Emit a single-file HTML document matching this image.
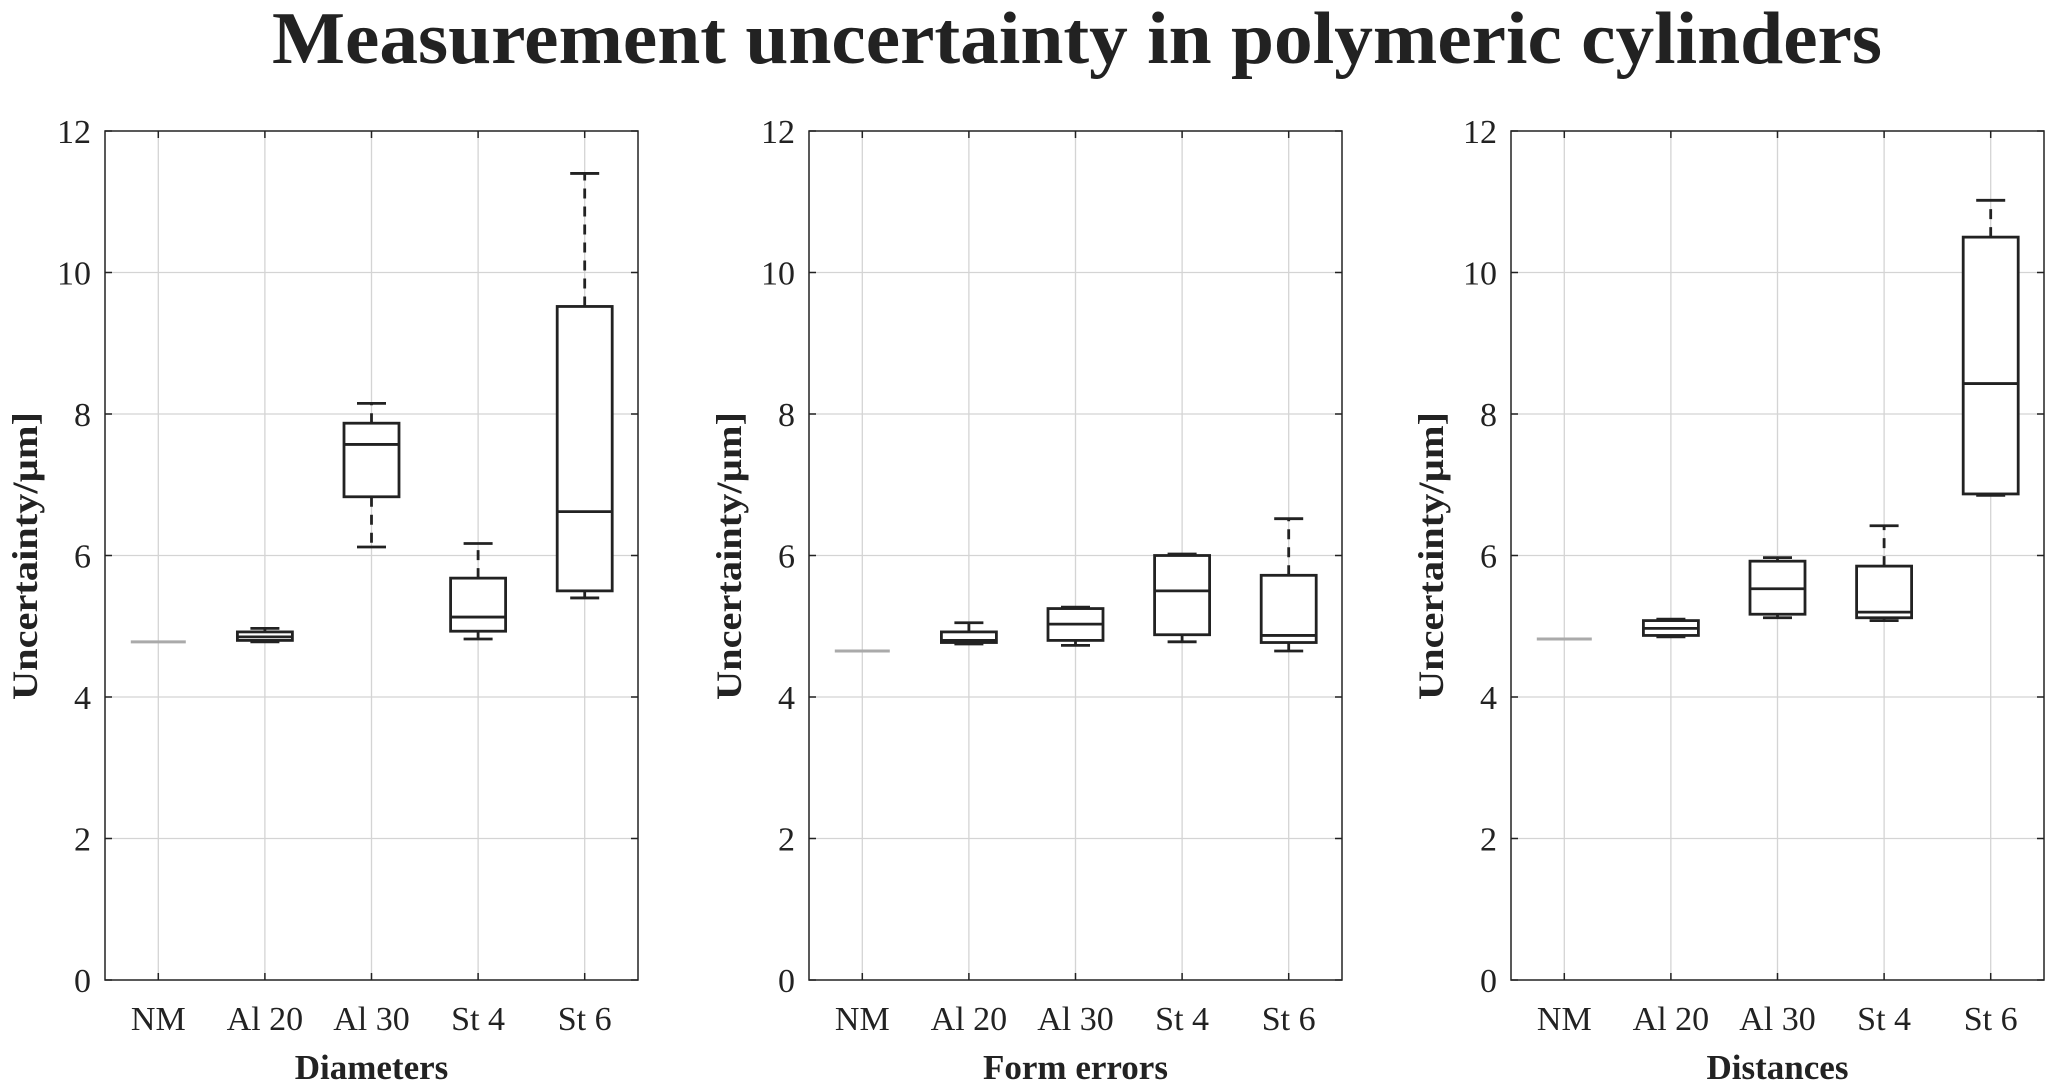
<!DOCTYPE html>
<html><head><meta charset="utf-8"><style>
body{margin:0;background:#fff}
svg{display:block;font-family:"Liberation Serif",serif}
</style></head><body>
<svg id="c" width="2055" height="1088" viewBox="0 0 2055 1088" xmlns="http://www.w3.org/2000/svg">
<text x="1077" y="63" text-anchor="middle" font-size="74" font-weight="bold" fill="#222" textLength="1610" lengthAdjust="spacingAndGlyphs">Measurement uncertainty in polymeric cylinders</text>
</svg>
<script>
const categories = ["NM","Al 20","Al 30","St 4","St 6"];
const yTicks = [0,2,4,6,8,10,12];
const panelTitles = ["Diameters","Form errors","Distances"];
// each box: [low whisker, q1, median, q3, high whisker]
const diameters = [[4.78,4.78,4.78,4.78,4.78],[4.78,4.8,4.85,4.92,4.97],[6.12,6.83,7.57,7.87,8.15],[4.82,4.93,5.13,5.68,6.17],[5.4,5.5,6.62,9.52,11.4]];
const formErrors = [[4.65,4.65,4.65,4.65,4.65],[4.75,4.77,4.8,4.92,5.05],[4.73,4.8,5.03,5.25,5.27],[4.78,4.88,5.5,6.0,6.02],[4.65,4.77,4.87,5.72,6.52]];
const distances = [[4.82,4.82,4.82,4.82,4.82],[4.85,4.87,4.97,5.08,5.1],[5.12,5.17,5.53,5.92,5.97],[5.08,5.12,5.2,5.85,6.42],[6.85,6.87,8.43,10.5,11.02]];
const panelData = [diameters, formErrors, distances];

const svgEl = document.getElementById('c');
const NS = 'http://www.w3.org/2000/svg';
function mk(tag, attrs, parent){const e=document.createElementNS(NS,tag);for(const k in attrs)e.setAttribute(k,attrs[k]);(parent||svgEl).appendChild(e);return e;}
const lefts=[105,809,1511], W=533, plotTop=131, plotBot=980, ymax=12;
panelData.forEach((data,p)=>{
  const L=lefts[p], R=L+W;
  const g=mk('g',{});
  
  
  const y=v=>plotBot-(v/ymax)*(plotBot-plotTop);
  const x=i=>L+(i+0.5)*W/categories.length;
  yTicks.forEach(t=>{
    if(t>0&&t<ymax){const gl=mk('line',{x1:L,x2:R,y1:y(t),y2:y(t),stroke:'#d4d4d4','stroke-width':1.3},g);
    }
    mk('line',{x1:L,x2:L+7,y1:y(t),y2:y(t),stroke:'#222','stroke-width':1.5},g);
    mk('line',{x1:R,x2:R-7,y1:y(t),y2:y(t),stroke:'#222','stroke-width':1.5},g);
    const tl=mk('text',{x:L-14,y:y(t)+12,'text-anchor':'end','font-size':34,fill:'#222'},g);
    
    tl.textContent=t;
  });
  categories.forEach((c,i)=>{
    const gl=mk('line',{x1:x(i),x2:x(i),y1:plotTop,y2:plotBot,stroke:'#d4d4d4','stroke-width':1.3},g);
    
    mk('line',{x1:x(i),x2:x(i),y1:plotBot,y2:plotBot-7,stroke:'#222','stroke-width':1.5},g);
    mk('line',{x1:x(i),x2:x(i),y1:plotTop,y2:plotTop+7,stroke:'#222','stroke-width':1.5},g);
    const tl=mk('text',{x:x(i),y:1030,'text-anchor':'middle','font-size':34,fill:'#222'},g);
    
    tl.textContent=c;
  });
  const ax=mk('rect',{x:L,y:plotTop,width:W,height:plotBot-plotTop,fill:'none',stroke:'#222','stroke-width':1.5},g);
  
  const xl=mk('text',{x:L+W/2,y:1079,'text-anchor':'middle','font-size':35,'font-weight':'bold',fill:'#222'},g);
  
  xl.textContent=panelTitles[p];
  const yl=mk('text',{x:0,y:0,'text-anchor':'middle','font-size':36,'font-weight':'bold',fill:'#222',transform:`translate(${L-68},${556}) rotate(-90)`,textLength:288,lengthAdjust:'spacingAndGlyphs'},g);
  
  yl.textContent='Uncertainty/µm]';
  data.forEach((b,i)=>{
    const bg=mk('g',{},g);
    
    
    const cx=x(i), hw=27.5, cw=14.5;
    if(b[4]-b[0]<0.001){
      mk('line',{x1:cx-hw,x2:cx+hw,y1:y(b[2]),y2:y(b[2]),stroke:'#aaa','stroke-width':3},bg);return;
    }
    const st={stroke:'#222','stroke-width':2.8,fill:'none'};
    mk('line',Object.assign({x1:cx,x2:cx,y1:y(b[3]),y2:y(b[4]),'stroke-dasharray':'10,8'},st),bg);
    mk('line',Object.assign({x1:cx,x2:cx,y1:y(b[1]),y2:y(b[0]),'stroke-dasharray':'10,8'},st),bg);
    mk('line',Object.assign({x1:cx-cw,x2:cx+cw,y1:y(b[4]),y2:y(b[4])},st),bg);
    mk('line',Object.assign({x1:cx-cw,x2:cx+cw,y1:y(b[0]),y2:y(b[0])},st),bg);
    mk('rect',{x:cx-hw,y:y(b[3]),width:2*hw,height:Math.max(0.5,y(b[1])-y(b[3])),fill:'#fff',stroke:'#222','stroke-width':2.8},bg);
    mk('line',Object.assign({x1:cx-hw,x2:cx+hw,y1:y(b[2]),y2:y(b[2])},st),bg);
  });
});
</script>
</body></html>
